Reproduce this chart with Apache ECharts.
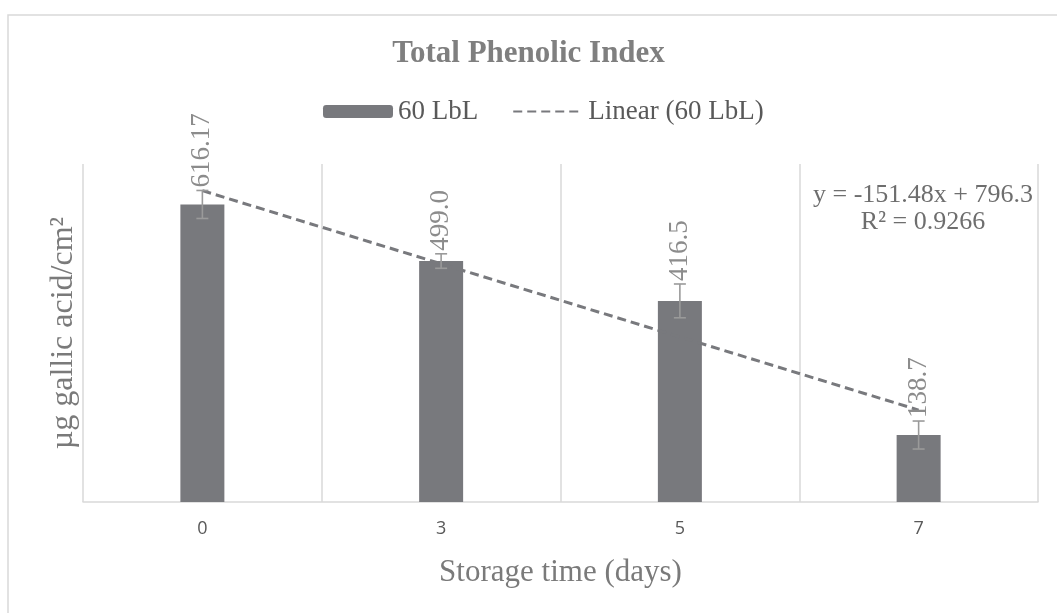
<!DOCTYPE html>
<html><head><meta charset="utf-8">
<script src="https://cdn.jsdelivr.net/npm/echarts@6/dist/echarts.min.js"></script>
<style>html,body{margin:0;padding:0;background:#fff}#c{width:1057px;height:613px}</style>
</head><body><div id="c"></div>
<script>
const categories = ['0', '3', '5', '7'];
const barValues = [616.17, 499.0, 416.5, 138.7];
const barLabels = ['616.17', '499.0', '416.5', '138.7'];
const errorValues = [29, 15, 35, 29];
const trendValues = [644.82, 493.34, 341.86, 190.38];
const equationLines = ['y = -151.48x + 796.3', 'R² = 0.9266'];
const yMin = 0, yMax = 700;

const serif = '"Liberation Serif", "Times New Roman", serif';
const chart = echarts.init(document.getElementById('c'), null, {renderer: 'canvas'});

const errData = categories.map((c, i) => [i, barValues[i], errorValues[i]]);

const option = {
  animation: false,
  backgroundColor: '#fff',
  title: {
    text: 'Total Phenolic Index',
    left: 'center', top: 38, padding: 0,
    textStyle: {fontFamily: serif, fontWeight: 'bold', fontSize: 31, color: '#7f7f7f'}
  },
  legend: {
    data: ['60 LbL', {name: 'Linear (60 LbL)', itemStyle: {opacity: 0}}],
    left: 323, top: 98, padding: 0,
    itemWidth: 70, itemHeight: 13, itemGap: 34,
    textStyle: {fontFamily: serif, fontSize: 27, color: '#595959'}
  },
  grid: {left: 83, right: 19, top: 164, bottom: 111, containLabel: false},
  xAxis: {
    type: 'category', data: categories,
    axisLine: {lineStyle: {color: '#d9d9d9', width: 1.5}},
    axisTick: {show: false},
    axisLabel: {color: '#595959', fontSize: 18, fontFamily: '"Open Sans", sans-serif', margin: 18},
    splitLine: {show: true, lineStyle: {color: '#d9d9d9', width: 1.5}},
    name: 'Storage time (days)', nameLocation: 'middle', nameGap: 55,
    nameTextStyle: {fontFamily: serif, fontSize: 31, color: '#7a7a7a'}
  },
  yAxis: {
    type: 'value', min: yMin, max: yMax,
    axisLine: {show: false}, axisTick: {show: false}, axisLabel: {show: false},
    splitLine: {show: false},
    name: 'µg gallic acid/cm²', nameLocation: 'middle', nameGap: 3,
    nameTextStyle: {fontFamily: serif, fontSize: 32, color: '#7a7a7a'}
  },
  series: [
    {
      name: '60 LbL', type: 'bar', data: barValues, barWidth: 44,
      itemStyle: {color: '#78797d'}, z: 2
    },
    {
      name: 'Linear (60 LbL)', type: 'line', data: trendValues,
      symbol: 'none', showSymbol: false,
      lineStyle: {color: '#78797d', width: 3, type: [9, 5]},
      itemStyle: {color: '#78797d'}, z: 4
    },
    {
      name: 'err', type: 'custom', data: errData, z: 5,
      renderItem: function (params, api) {
        const i = api.value(0);
        const v = api.value(1), e = api.value(2);
        const top = api.coord([i, v + e]);
        const bot = api.coord([i, v - e]);
        const x = top[0];
        const hw = 6;
        const ls = {stroke: '#9a9a9a', lineWidth: 1.6};
        return {
          type: 'group',
          children: [
            {type: 'line', shape: {x1: x, y1: top[1], x2: x, y2: bot[1]}, style: ls},
            {type: 'line', shape: {x1: x - hw, y1: top[1], x2: x + hw, y2: top[1]}, style: ls},
            {type: 'line', shape: {x1: x - hw, y1: bot[1], x2: x + hw, y2: bot[1]}, style: ls},
            {type: 'text', x: x, y: top[1] - 3, rotation: Math.PI / 2,
             style: {text: barLabels[params.dataIndex], fill: '#8c8c8c',
                     font: '27px ' + serif, textAlign: 'left', textVerticalAlign: 'middle'}}
          ]
        };
      }
    }
  ],
  graphic: [
    {type: 'rect', shape: {x: 8, y: 15, width: 1200, height: 800},
     style: {fill: 'none', stroke: '#d9d9d9', lineWidth: 1.5}, silent: true, z: -10},
    {type: 'text', x: 923, y: 195,
     style: {text: equationLines[0], fill: '#6e6e6e', font: '26px ' + serif, textAlign: 'center', textVerticalAlign: 'middle'}},
    {type: 'text', x: 923, y: 222,
     style: {text: equationLines[1], fill: '#6e6e6e', font: '26px ' + serif, textAlign: 'center', textVerticalAlign: 'middle'}}
  ]
};
chart.setOption(option);
</script>
</body></html>
